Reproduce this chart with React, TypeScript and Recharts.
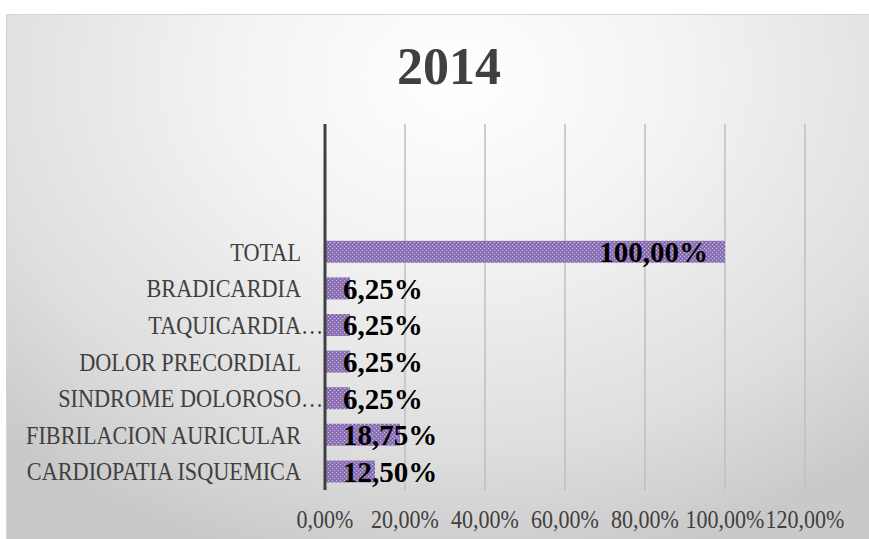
import React from 'react'
import { BarChart, Bar, XAxis, YAxis, CartesianGrid, LabelList } from 'recharts'

// categories, top to bottom (the first three rows are empty in the original)
const categories = [
  '',
  ' ',
  '  ',
  'TOTAL',
  'BRADICARDIA',
  'TAQUICARDIA…',
  'DOLOR PRECORDIAL',
  'SINDROME DOLOROSO…',
  'FIBRILACION AURICULAR',
  'CARDIOPATIA ISQUEMICA'
]
const values = [null, null, null, 1.0, 0.0625, 0.0625, 0.0625, 0.0625, 0.1875, 0.125]
const xTicks = [0, 0.2, 0.4, 0.6, 0.8, 1.0, 1.2]

const data = categories.map((name, i) => ({ name, value: values[i] }))

const COLORS = {
  text: '#404040',
  grid: '#bfbfbf',
  axis: '#404040',
  bar: '#8f75b8'
}

const SERIF = "'Liberation Serif', serif"

const pct = (v: number) => (v * 100).toFixed(2).replace('.', ',') + '%'

// category tick: condensed look, ellipsis hangs past the right edge like in Excel
const CategoryTick = (props: any) => {
  const { x, y, payload } = props
  const label: string = payload.value || ''
  if (!label.trim()) return null
  const hasEllipsis = label.endsWith('…')
  const main = hasEllipsis ? label.slice(0, -1) : label
  return (
    <g transform={`translate(${x},${y}) scale(0.89,1)`}>
      <text x={0} y={0} dy="0.35em" textAnchor="end" fill={COLORS.text} fontFamily={SERIF} fontSize={25}>
        {main}
      </text>
      {hasEllipsis && (
        <text x={0} y={0} dy="0.35em" textAnchor="start" fill={COLORS.text} fontFamily={SERIF} fontSize={25}>
          …
        </text>
      )}
    </g>
  )
}

const PercentTick = (props: any) => {
  const { x, y, payload } = props
  return (
    <g transform={`translate(${x},${y}) scale(0.88,1)`}>
      <text x={0} y={0} dy="0.71em" textAnchor="middle" fill={COLORS.text} fontFamily={SERIF} fontSize={25}>
        {pct(payload.value)}
      </text>
    </g>
  )
}

const ValueLabel = (props: any) => {
  const { x, y, width, height, value } = props
  if (value == null) return null
  const long = width > 200
  return (
    <text
      x={long ? x + width - 17 : x + 18}
      y={y + height / 2}
      dy="0.36em"
      textAnchor={long ? 'end' : 'start'}
      fill="#000"
      fontFamily={SERIF}
      fontWeight="bold"
      fontSize={29}
    >
      {pct(value)}
    </text>
  )
}

export default function App() {
  return (
    <div
      style={{
        position: 'absolute',
        left: 6,
        top: 14,
        width: 864,
        height: 526,
        boxSizing: 'border-box',
        border: '1px solid #d4d4d4',
        background: 'radial-gradient(ellipse 75% 95% at 52% 12%, #ffffff 0%, #f3f3f3 35%, #dedede 75%, #c9c9c9 100%)',
        overflow: 'hidden'
      }}
    >
      <div
        style={{
          position: 'absolute',
          left: 0,
          width: 884,
          top: 22,
          textAlign: 'center',
          fontFamily: SERIF,
          fontWeight: 'bold',
          fontSize: 52,
          lineHeight: '60px',
          color: COLORS.text
        }}
      >
        2014
      </div>
      <div style={{ position: 'absolute', left: -1, top: -1 }}>
        <BarChart
          width={864}
          height={526}
          data={data}
          layout="vertical"
          margin={{ top: 110, right: 65, bottom: 0, left: 0 }}
        >
          <defs>
            <pattern id="dots" width="4" height="4" patternUnits="userSpaceOnUse">
              <rect width="4" height="4" fill={COLORS.bar} />
              <rect x="0" y="0" width="1" height="1" fill="#c7b9de" />
              <rect x="2" y="2" width="1" height="1" fill="#c7b9de" />
              <rect x="2" y="0" width="1" height="1" fill="#7d62a6" />
              <rect x="0" y="2" width="1" height="1" fill="#7d62a6" />
            </pattern>
          </defs>
          <CartesianGrid horizontal={false} stroke={COLORS.grid} strokeWidth={1.5} />
          <XAxis
            type="number"
            domain={[0, 1.2]}
            ticks={xTicks}
            interval={0}
            axisLine={false}
            tickLine={false}
            tickSize={0}
            tickMargin={20}
            height={50}
            tick={<PercentTick />}
          />
          <YAxis
            type="category"
            dataKey="name"
            width={319}
            interval={0}
            tickLine={false}
            tickSize={0}
            tickMargin={24}
            axisLine={{ stroke: COLORS.axis, strokeWidth: 3 }}
            tick={<CategoryTick />}
          />
          <Bar dataKey="value" fill="url(#dots)" barSize={22} isAnimationActive={false}>
            <LabelList dataKey="value" content={<ValueLabel />} />
          </Bar>
        </BarChart>
      </div>
    </div>
  )
}
